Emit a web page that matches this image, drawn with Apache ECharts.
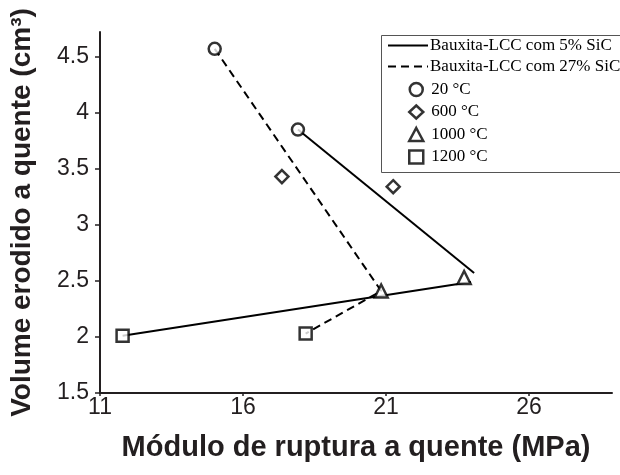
<!DOCTYPE html>
<html>
<head>
<meta charset="utf-8">
<script src="https://cdn.jsdelivr.net/npm/echarts@6/dist/echarts.min.js"></script>
<style>
  html, body { margin: 0; padding: 0; background: #fff; }
  #chart { width: 620px; height: 475px; }
</style>
</head>
<body>
<div id="chart"></div>
<script>
// tick labels
const xTicks = [11, 16, 21, 26];
const yTicks = [1.5, 2, 2.5, 3, 3.5, 4, 4.5];

// legend names
const lineNames = ["Bauxita-LCC com 5% SiC", "Bauxita-LCC com 27% SiC"];
const tempNames = ["20 °C", "600 °C", "1000 °C", "1200 °C"];

// measured points [modulo, volume] by temperature
const t20 = [[15.01, 4.57], [17.92, 3.85]];
const t600 = [[17.36, 3.43], [21.25, 3.34]];
const t1000 = [[20.83, 2.41], [23.73, 2.53]];
const t1200 = [[11.79, 2.01], [18.19, 2.03]];

// trend lines
const line5a = [[17.92, 3.85], [24.08, 2.57]];
const line5b = [[11.79, 2.01], [23.97, 2.49]];
const line27 = [[15.01, 4.57], [20.83, 2.41], [18.19, 2.03]];

const chart = echarts.init(document.getElementById("chart"));

const markerStyle = { color: "#fff", borderColor: "#000", borderWidth: 2.5 };
const sizes = { circle: 12, diamond: 13, triangle: 13, rect: 12 };
function markerSeries(name, symbol, data) {
  return {
    name: name,
    type: "scatter",
    symbol: symbol,
    symbolSize: sizes[symbol],
    itemStyle: markerStyle,
    data: data,
    z: 5,
  };
}
function lineSeries(name, data, dashed) {
  return {
    name: name,
    type: "line",
    symbol: "none",
    itemStyle: { color: "#000" },
    lineStyle: { color: "#000", width: 2, type: dashed ? [8, 5] : "solid" },
    data: data,
    z: 2,
  };
}

chart.setOption({
  animation: false,
  grid: { left: 99, right: 8, top: 32, bottom: 82 },
  xAxis: {
    type: "value",
    min: 11,
    max: 28.9,
    name: "Módulo de ruptura a quente (MPa)",
    nameLocation: "middle",
    nameGap: 40,
    nameTextStyle: { fontFamily: "Liberation Sans", fontWeight: "bold", fontSize: 29, color: "#231f20" },
    axisLine: { lineStyle: { color: "#231f20", width: 2 } },
    axisTick: { customValues: xTicks, length: 3, lineStyle: { color: "#231f20", width: 1.5 } },
    axisLabel: { customValues: xTicks, margin: 3, fontFamily: "Liberation Sans", fontSize: 23, color: "#231f20" },
    splitLine: { show: false },
  },
  yAxis: {
    type: "value",
    min: 1.5,
    max: 4.72,
    name: "Volume erodido a quente (cm³)",
    nameLocation: "middle",
    nameGap: 64,
    nameTextStyle: { fontFamily: "Liberation Sans", fontWeight: "bold", fontSize: 28, color: "#231f20" },
    axisLine: { show: true, lineStyle: { color: "#231f20", width: 2 } },
    axisTick: { show: true, customValues: yTicks, length: 5, lineStyle: { color: "#231f20", width: 1.5 } },
    axisLabel: { customValues: yTicks, margin: 11, fontFamily: "Liberation Sans", fontSize: 23, color: "#231f20" },
    splitLine: { show: false },
  },
  graphic: [
    {
      type: "rect",
      left: 381,
      top: 35,
      shape: { width: 250, height: 137 },
      style: { fill: "#fff", stroke: "#555", lineWidth: 1 },
      z: 10,
    },
  ],
  legend: [
    {
      data: lineNames,
      orient: "vertical",
      left: 387,
      top: 37,
      padding: 0,
      itemWidth: 40,
      itemHeight: 14,
      itemGap: 4,
      itemStyle: { opacity: 0 },
      textStyle: { fontFamily: "Liberation Serif", fontSize: 17, color: "#000", padding: [0, 0, 0, -3] },
      z: 20,
    },
    {
      data: tempNames,
      orient: "vertical",
      left: 408,
      top: 81,
      padding: 0,
      itemWidth: 14,
      itemHeight: 13,
      itemGap: 5.5,
      itemStyle: { color: "#fff", borderColor: "#000", borderWidth: 2.5 },
      textStyle: { fontFamily: "Liberation Serif", fontSize: 17, color: "#000", padding: [0, 0, 0, 3] },
      z: 20,
    },
  ],
  series: [
    lineSeries(lineNames[0], line5a, false),
    lineSeries(lineNames[0], line5b, false),
    lineSeries(lineNames[1], line27, true),
    markerSeries(tempNames[0], "circle", t20),
    markerSeries(tempNames[1], "diamond", t600),
    markerSeries(tempNames[2], "triangle", t1000),
    markerSeries(tempNames[3], "rect", t1200),
  ],
});
</script>
</body>
</html>
